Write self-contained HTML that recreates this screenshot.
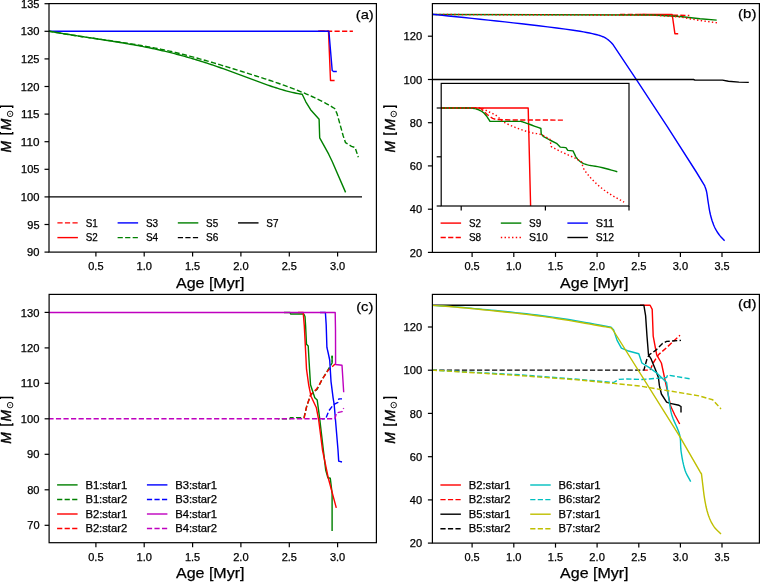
<!DOCTYPE html><html><head><meta charset="utf-8"><style>html,body{margin:0;padding:0;background:#fff;overflow:hidden}svg{display:block}text{font-family:"Liberation Sans",sans-serif;fill:#000;stroke:#000;stroke-width:0.25px}svg{will-change:transform}</style></head><body>
<svg width="760" height="582" viewBox="0 0 760 582">
<rect width="760" height="582" fill="#fff"/>
<rect x="49.0" y="3.6" width="327.4" height="248.5" fill="#fff" stroke="none"/>
<svg x="49.0" y="3.6" width="327.4" height="248.5" viewBox="49.0 3.6 327.4 248.5" overflow="hidden">
<polyline points="49.00,196.90 362.00,196.90" fill="none" stroke="#000000" stroke-width="1.41" stroke-linejoin="round" stroke-linecap="butt"/>
<polyline points="318.00,31.30 352.90,31.30" fill="none" stroke="#ff0000" stroke-width="1.41" stroke-linejoin="round" stroke-linecap="butt" stroke-dasharray="5.2 2.33" stroke-dashoffset="6.05"/>
<polyline points="318.00,31.30 328.50,31.30 330.50,80.50 334.60,80.50" fill="none" stroke="#ff0000" stroke-width="1.41" stroke-linejoin="round" stroke-linecap="butt"/>
<polyline points="49.00,31.30 328.90,31.30 332.20,70.50 333.50,71.50 336.80,71.50" fill="none" stroke="#0000ff" stroke-width="1.41" stroke-linejoin="round" stroke-linecap="butt"/>
<polyline points="48.40,31.11 50.42,31.48 52.43,31.85 54.45,32.21 56.46,32.57 58.48,32.91 60.50,33.26 62.51,33.59 64.53,33.93 66.55,34.25 68.56,34.58 70.58,34.90 72.59,35.21 74.61,35.52 76.63,35.83 78.64,36.13 80.66,36.44 82.68,36.73 84.69,37.03 86.71,37.33 88.72,37.62 90.74,37.91 92.76,38.20 94.77,38.49 96.79,38.78 98.80,39.07 100.82,39.35 102.84,39.64 104.85,39.93 106.87,40.22 108.89,40.51 110.90,40.80 112.92,41.10 114.93,41.39 116.95,41.69 118.97,41.99 120.98,42.29 123.00,42.60 125.02,42.91 127.03,43.22 129.05,43.54 131.06,43.86 133.08,44.18 135.10,44.51 137.11,44.85 139.13,45.19 141.15,45.53 143.16,45.88 145.18,46.24 147.19,46.60 149.21,46.97 151.23,47.35 153.24,47.73 155.26,48.13 157.27,48.52 159.29,48.93 161.31,49.35 163.32,49.77 165.34,50.21 167.36,50.65 169.37,51.10 171.39,51.56 173.40,52.03 175.42,52.51 177.44,52.99 179.45,53.49 181.47,53.99 183.49,54.50 185.50,55.01 187.52,55.54 189.53,56.07 191.55,56.60 193.57,57.15 195.58,57.70 197.60,58.25 199.61,58.82 201.63,59.38 203.65,59.95 205.66,60.53 207.68,61.11 209.70,61.70 211.71,62.29 213.73,62.89 215.74,63.49 217.76,64.09 219.78,64.70 221.79,65.31 223.81,65.92 225.83,66.54 227.84,67.16 229.86,67.78 231.87,68.40 233.89,69.03 235.91,69.65 237.92,70.28 239.94,70.91 241.95,71.54 243.97,72.17 245.99,72.80 248.00,73.44 250.02,74.07 252.04,74.70 254.05,75.34 256.07,75.97 258.08,76.61 260.10,77.25 262.12,77.90 264.13,78.55 266.15,79.20 268.17,79.86 270.18,80.53 272.20,81.20 274.21,81.88 276.23,82.56 278.25,83.26 280.26,83.96 282.28,84.67 284.30,85.39 286.31,86.12 288.33,86.86 290.34,87.61 292.36,88.37 294.38,89.15 296.39,89.94 298.41,90.74 300.42,91.55 302.44,92.38 304.46,93.22 306.47,94.08 308.49,94.95 310.51,95.85 312.52,96.76 314.54,97.69 316.55,98.64 318.57,99.62 320.59,100.62 322.60,101.65 324.62,102.71 326.64,103.80 328.65,104.92 330.67,106.07 332.68,107.27 334.70,108.50 337.10,113.90 340.10,124.70 343.10,135.50 345.50,142.70 351.50,146.30 355.10,147.50 358.30,157.20" fill="none" stroke="#008000" stroke-width="1.41" stroke-linejoin="round" stroke-linecap="butt" stroke-dasharray="5.2 2.33" stroke-dashoffset="0.00"/>
<polyline points="49.00,31.14 51.03,31.51 53.05,31.86 55.08,32.21 57.10,32.56 59.13,32.90 61.15,33.24 63.18,33.58 65.20,33.91 67.23,34.24 69.26,34.56 71.28,34.88 73.31,35.20 75.33,35.52 77.36,35.84 79.38,36.15 81.41,36.46 83.44,36.77 85.46,37.08 87.49,37.39 89.51,37.70 91.54,38.01 93.56,38.32 95.59,38.63 97.61,38.94 99.64,39.25 101.67,39.56 103.69,39.88 105.72,40.19 107.74,40.51 109.77,40.83 111.79,41.15 113.82,41.47 115.84,41.80 117.87,42.13 119.90,42.46 121.92,42.80 123.95,43.14 125.97,43.49 128.00,43.84 130.02,44.19 132.05,44.55 134.08,44.92 136.10,45.29 138.13,45.66 140.15,46.04 142.18,46.43 144.20,46.82 146.23,47.23 148.25,47.63 150.28,48.05 152.31,48.47 154.33,48.90 156.36,49.34 158.38,49.79 160.41,50.24 162.43,50.71 164.46,51.18 166.48,51.66 168.51,52.16 170.54,52.66 172.56,53.17 174.59,53.69 176.61,54.22 178.64,54.76 180.66,55.30 182.69,55.86 184.72,56.42 186.74,57.00 188.77,57.58 190.79,58.17 192.82,58.77 194.84,59.38 196.87,59.99 198.89,60.62 200.92,61.25 202.95,61.89 204.97,62.53 207.00,63.19 209.02,63.85 211.05,64.52 213.07,65.20 215.10,65.88 217.12,66.57 219.15,67.27 221.18,67.98 223.20,68.69 225.23,69.41 227.25,70.13 229.28,70.87 231.30,71.61 233.33,72.35 235.36,73.10 237.38,73.86 239.41,74.62 241.43,75.38 243.46,76.14 245.48,76.91 247.51,77.67 249.53,78.43 251.56,79.20 253.59,79.95 255.61,80.71 257.64,81.45 259.66,82.20 261.69,82.93 263.71,83.66 265.74,84.37 267.76,85.08 269.79,85.78 271.82,86.46 273.84,87.13 275.87,87.79 277.89,88.44 279.92,89.06 281.94,89.67 283.97,90.26 286.00,90.82 288.02,91.36 290.05,91.87 292.07,92.35 294.10,92.81 296.12,93.23 298.15,93.61 300.17,93.96 302.20,94.27 305.80,101.80 310.60,109.70 319.10,119.30 319.70,137.90 328.70,154.20 332.20,161.50 345.60,192.40" fill="none" stroke="#008000" stroke-width="1.41" stroke-linejoin="round" stroke-linecap="butt"/>
</svg>
<rect x="49.0" y="3.6" width="327.4" height="248.5" fill="none" stroke="#000" stroke-width="1.2"/>
<line x1="95.9" y1="252.1" x2="95.9" y2="256.6" stroke="#000" stroke-width="1.2"/>
<text x="95.9" y="270.0" font-size="10" text-anchor="middle" textLength="15.26" lengthAdjust="spacingAndGlyphs">0.5</text>
<line x1="144.2" y1="252.1" x2="144.2" y2="256.6" stroke="#000" stroke-width="1.2"/>
<text x="144.2" y="270.0" font-size="10" text-anchor="middle" textLength="15.42" lengthAdjust="spacingAndGlyphs">1.0</text>
<line x1="192.6" y1="252.1" x2="192.6" y2="256.6" stroke="#000" stroke-width="1.2"/>
<text x="192.6" y="270.0" font-size="10" text-anchor="middle" textLength="15.22" lengthAdjust="spacingAndGlyphs">1.5</text>
<line x1="240.9" y1="252.1" x2="240.9" y2="256.6" stroke="#000" stroke-width="1.2"/>
<text x="240.9" y="270.0" font-size="10" text-anchor="middle" textLength="15.5" lengthAdjust="spacingAndGlyphs">2.0</text>
<line x1="289.3" y1="252.1" x2="289.3" y2="256.6" stroke="#000" stroke-width="1.2"/>
<text x="289.3" y="270.0" font-size="10" text-anchor="middle" textLength="15.31" lengthAdjust="spacingAndGlyphs">2.5</text>
<line x1="337.6" y1="252.1" x2="337.6" y2="256.6" stroke="#000" stroke-width="1.2"/>
<text x="337.6" y="270.0" font-size="10" text-anchor="middle" textLength="15.33" lengthAdjust="spacingAndGlyphs">3.0</text>
<line x1="44.5" y1="252.1" x2="49.0" y2="252.1" stroke="#000" stroke-width="1.2"/>
<text x="39.5" y="256.2" font-size="10" text-anchor="end" textLength="12.39" lengthAdjust="spacingAndGlyphs">90</text>
<line x1="44.5" y1="224.5" x2="49.0" y2="224.5" stroke="#000" stroke-width="1.2"/>
<text x="39.5" y="228.6" font-size="10" text-anchor="end" textLength="12.2" lengthAdjust="spacingAndGlyphs">95</text>
<line x1="44.5" y1="196.9" x2="49.0" y2="196.9" stroke="#000" stroke-width="1.2"/>
<text x="39.5" y="201.0" font-size="10" text-anchor="end" textLength="18.61" lengthAdjust="spacingAndGlyphs">100</text>
<line x1="44.5" y1="169.3" x2="49.0" y2="169.3" stroke="#000" stroke-width="1.2"/>
<text x="39.5" y="173.4" font-size="10" text-anchor="end" textLength="18.42" lengthAdjust="spacingAndGlyphs">105</text>
<line x1="44.5" y1="141.7" x2="49.0" y2="141.7" stroke="#000" stroke-width="1.2"/>
<text x="39.5" y="145.8" font-size="10" text-anchor="end" textLength="18.61" lengthAdjust="spacingAndGlyphs">110</text>
<line x1="44.5" y1="114.1" x2="49.0" y2="114.1" stroke="#000" stroke-width="1.2"/>
<text x="39.5" y="118.2" font-size="10" text-anchor="end" textLength="18.42" lengthAdjust="spacingAndGlyphs">115</text>
<line x1="44.5" y1="86.5" x2="49.0" y2="86.5" stroke="#000" stroke-width="1.2"/>
<text x="39.5" y="90.6" font-size="10" text-anchor="end" textLength="18.61" lengthAdjust="spacingAndGlyphs">120</text>
<line x1="44.5" y1="58.9" x2="49.0" y2="58.9" stroke="#000" stroke-width="1.2"/>
<text x="39.5" y="63.0" font-size="10" text-anchor="end" textLength="18.42" lengthAdjust="spacingAndGlyphs">125</text>
<line x1="44.5" y1="31.3" x2="49.0" y2="31.3" stroke="#000" stroke-width="1.2"/>
<text x="39.5" y="35.4" font-size="10" text-anchor="end" textLength="18.61" lengthAdjust="spacingAndGlyphs">130</text>
<line x1="44.5" y1="3.7" x2="49.0" y2="3.7" stroke="#000" stroke-width="1.2"/>
<text x="39.5" y="7.8" font-size="10" text-anchor="end" textLength="18.42" lengthAdjust="spacingAndGlyphs">135</text>
<text x="210.2" y="287.8" font-size="14" text-anchor="middle" textLength="68.43" lengthAdjust="spacingAndGlyphs">Age [Myr]</text>
<g transform="translate(11.0,152.5) rotate(-90)"><text x="0.0" y="0" font-size="14" font-style="italic" style="stroke-width:0.4px" textLength="11.6" lengthAdjust="spacingAndGlyphs">M</text><path d="M20.4,-10.7 H18.7 V1.7 H20.4" fill="none" stroke="#000" stroke-width="1.45"/><text x="22.2" y="0" font-size="14" font-style="italic" style="stroke-width:0.4px" textLength="11.6" lengthAdjust="spacingAndGlyphs">M</text><circle cx="38.6" cy="-0.9" r="2.75" fill="none" stroke="#000" stroke-width="0.9"/><circle cx="38.6" cy="-0.9" r="0.6" fill="#000"/><path d="M44.6,-10.7 H46.3 V1.7 H44.6" fill="none" stroke="#000" stroke-width="1.45"/></g>
<text x="373.7" y="19.1" font-size="13.2" text-anchor="end" textLength="17.94" lengthAdjust="spacingAndGlyphs">(a)</text>
<polyline points="57.40,222.90 77.90,222.90" fill="none" stroke="#ff0000" stroke-width="1.41" stroke-linejoin="round" stroke-linecap="butt" stroke-dasharray="5.2 2.33"/>
<text x="85.7" y="226.5" font-size="10" text-anchor="start" textLength="12.06" lengthAdjust="spacingAndGlyphs">S1</text>
<polyline points="57.40,237.60 77.90,237.60" fill="none" stroke="#ff0000" stroke-width="1.41" stroke-linejoin="round" stroke-linecap="butt"/>
<text x="85.7" y="241.2" font-size="10" text-anchor="start" textLength="11.99" lengthAdjust="spacingAndGlyphs">S2</text>
<polyline points="117.61,222.90 138.11,222.90" fill="none" stroke="#0000ff" stroke-width="1.41" stroke-linejoin="round" stroke-linecap="butt"/>
<text x="145.9" y="226.5" font-size="10" text-anchor="start" textLength="12.14" lengthAdjust="spacingAndGlyphs">S3</text>
<polyline points="117.61,237.60 138.11,237.60" fill="none" stroke="#008000" stroke-width="1.41" stroke-linejoin="round" stroke-linecap="butt" stroke-dasharray="5.2 2.33"/>
<text x="145.9" y="241.2" font-size="10" text-anchor="start" textLength="12.24" lengthAdjust="spacingAndGlyphs">S4</text>
<polyline points="177.82,222.90 198.32,222.90" fill="none" stroke="#008000" stroke-width="1.41" stroke-linejoin="round" stroke-linecap="butt"/>
<text x="206.1" y="226.5" font-size="10" text-anchor="start" textLength="12.04" lengthAdjust="spacingAndGlyphs">S5</text>
<polyline points="177.82,237.60 198.32,237.60" fill="none" stroke="#000000" stroke-width="1.41" stroke-linejoin="round" stroke-linecap="butt" stroke-dasharray="5.2 2.33"/>
<text x="206.1" y="241.2" font-size="10" text-anchor="start" textLength="12.32" lengthAdjust="spacingAndGlyphs">S6</text>
<polyline points="238.03,222.90 258.53,222.90" fill="none" stroke="#000000" stroke-width="1.41" stroke-linejoin="round" stroke-linecap="butt"/>
<text x="266.3" y="226.5" font-size="10" text-anchor="start" textLength="12.15" lengthAdjust="spacingAndGlyphs">S7</text>
<rect x="432.4" y="3.6" width="327.0" height="248.8" fill="#fff" stroke="none"/>
<svg x="432.4" y="3.6" width="327.0" height="248.8" viewBox="432.4 3.6 327.0 248.8" overflow="hidden">
<polyline points="640.00,14.50 672.20,14.50 674.90,33.70 678.20,33.70" fill="none" stroke="#ff0000" stroke-width="1.41" stroke-linejoin="round" stroke-linecap="butt"/>
<polyline points="620.00,14.50 650.00,14.60 675.00,15.20 689.30,15.50" fill="none" stroke="#ff0000" stroke-width="1.41" stroke-linejoin="round" stroke-linecap="butt" stroke-dasharray="5.2 2.33" stroke-dashoffset="7.48"/>
<polyline points="432.40,14.50 653.00,15.00 680.00,16.50 700.00,18.80 716.70,20.10" fill="none" stroke="#008000" stroke-width="1.41" stroke-linejoin="round" stroke-linecap="butt"/>
<polyline points="431.80,14.50 653.00,15.10 680.00,17.00 700.00,20.50 717.80,22.90" fill="none" stroke="#ff0000" stroke-width="1.41" stroke-linejoin="round" stroke-linecap="butt" stroke-dasharray="1.41 2.33" stroke-dashoffset="0.00"/>
<polyline points="432.40,14.30 440.32,15.12 448.22,15.93 456.13,16.75 464.05,17.57 472.00,18.40 480.00,19.25 488.26,20.13 496.58,21.01 504.93,21.91 513.29,22.83 521.66,23.77 530.00,24.75 538.64,25.78 547.65,26.86 556.66,27.97 565.30,29.09 573.20,30.19 580.00,31.25 583.45,31.85 586.62,32.44 589.55,33.03 592.23,33.61 594.71,34.20 597.00,34.80 598.37,35.18 599.63,35.55 600.80,35.91 601.90,36.30 602.96,36.72 604.00,37.20 604.91,37.68 605.79,38.18 606.63,38.72 607.44,39.29 608.23,39.88 609.00,40.50 609.75,41.16 610.46,41.86 611.15,42.59 611.83,43.33 612.51,44.07 613.20,44.80 636.40,79.60 667.30,126.60 696.30,172.00 704.60,185.60 704.90,186.47 705.22,187.32 705.53,188.16 705.83,189.03 706.12,189.97 706.40,191.00 706.76,192.72 707.09,194.64 707.39,196.70 707.68,198.82 707.98,200.94 708.30,203.00 708.63,205.01 708.95,207.02 709.28,209.03 709.64,211.03 710.04,213.03 710.50,215.00 711.02,216.97 711.59,218.96 712.20,220.94 712.85,222.87 713.55,224.73 714.30,226.50 715.00,227.96 715.73,229.36 716.49,230.71 717.30,232.01 718.13,233.27 719.00,234.50 719.87,235.62 720.79,236.70 721.73,237.73 722.69,238.75 723.65,239.76 724.60,240.80" fill="none" stroke="#0000ff" stroke-width="1.41" stroke-linejoin="round" stroke-linecap="butt"/>
<polyline points="432.40,79.50 693.60,79.50 694.90,80.10 722.50,80.10 728.40,81.30 738.90,82.10 748.80,82.40" fill="none" stroke="#000000" stroke-width="1.41" stroke-linejoin="round" stroke-linecap="butt"/>
</svg>
<rect x="432.4" y="3.6" width="327.0" height="248.8" fill="none" stroke="#000" stroke-width="1.2"/>
<line x1="472.1" y1="252.4" x2="472.1" y2="256.9" stroke="#000" stroke-width="1.2"/>
<text x="472.1" y="270.0" font-size="10" text-anchor="middle" textLength="15.26" lengthAdjust="spacingAndGlyphs">0.5</text>
<line x1="513.8" y1="252.4" x2="513.8" y2="256.9" stroke="#000" stroke-width="1.2"/>
<text x="513.8" y="270.0" font-size="10" text-anchor="middle" textLength="15.42" lengthAdjust="spacingAndGlyphs">1.0</text>
<line x1="555.5" y1="252.4" x2="555.5" y2="256.9" stroke="#000" stroke-width="1.2"/>
<text x="555.5" y="270.0" font-size="10" text-anchor="middle" textLength="15.22" lengthAdjust="spacingAndGlyphs">1.5</text>
<line x1="597.1" y1="252.4" x2="597.1" y2="256.9" stroke="#000" stroke-width="1.2"/>
<text x="597.1" y="270.0" font-size="10" text-anchor="middle" textLength="15.5" lengthAdjust="spacingAndGlyphs">2.0</text>
<line x1="638.8" y1="252.4" x2="638.8" y2="256.9" stroke="#000" stroke-width="1.2"/>
<text x="638.8" y="270.0" font-size="10" text-anchor="middle" textLength="15.31" lengthAdjust="spacingAndGlyphs">2.5</text>
<line x1="680.4" y1="252.4" x2="680.4" y2="256.9" stroke="#000" stroke-width="1.2"/>
<text x="680.4" y="270.0" font-size="10" text-anchor="middle" textLength="15.33" lengthAdjust="spacingAndGlyphs">3.0</text>
<line x1="722.0" y1="252.4" x2="722.0" y2="256.9" stroke="#000" stroke-width="1.2"/>
<text x="722.0" y="270.0" font-size="10" text-anchor="middle" textLength="15.14" lengthAdjust="spacingAndGlyphs">3.5</text>
<line x1="427.9" y1="252.4" x2="432.4" y2="252.4" stroke="#000" stroke-width="1.2"/>
<text x="422.1" y="256.5" font-size="10" text-anchor="end" textLength="12.32" lengthAdjust="spacingAndGlyphs">20</text>
<line x1="427.9" y1="209.2" x2="432.4" y2="209.2" stroke="#000" stroke-width="1.2"/>
<text x="422.1" y="213.3" font-size="10" text-anchor="end" textLength="12.26" lengthAdjust="spacingAndGlyphs">40</text>
<line x1="427.9" y1="165.9" x2="432.4" y2="165.9" stroke="#000" stroke-width="1.2"/>
<text x="422.1" y="170.0" font-size="10" text-anchor="end" textLength="12.36" lengthAdjust="spacingAndGlyphs">60</text>
<line x1="427.9" y1="122.7" x2="432.4" y2="122.7" stroke="#000" stroke-width="1.2"/>
<text x="422.1" y="126.8" font-size="10" text-anchor="end" textLength="12.29" lengthAdjust="spacingAndGlyphs">80</text>
<line x1="427.9" y1="79.5" x2="432.4" y2="79.5" stroke="#000" stroke-width="1.2"/>
<text x="422.1" y="83.6" font-size="10" text-anchor="end" textLength="18.61" lengthAdjust="spacingAndGlyphs">100</text>
<line x1="427.9" y1="36.2" x2="432.4" y2="36.2" stroke="#000" stroke-width="1.2"/>
<text x="422.1" y="40.3" font-size="10" text-anchor="end" textLength="18.61" lengthAdjust="spacingAndGlyphs">120</text>
<text x="594.3" y="287.8" font-size="14" text-anchor="middle" textLength="68.43" lengthAdjust="spacingAndGlyphs">Age [Myr]</text>
<g transform="translate(394.6,152.6) rotate(-90)"><text x="0.0" y="0" font-size="14" font-style="italic" style="stroke-width:0.4px" textLength="11.6" lengthAdjust="spacingAndGlyphs">M</text><path d="M20.4,-10.7 H18.7 V1.7 H20.4" fill="none" stroke="#000" stroke-width="1.45"/><text x="22.2" y="0" font-size="14" font-style="italic" style="stroke-width:0.4px" textLength="11.6" lengthAdjust="spacingAndGlyphs">M</text><circle cx="38.6" cy="-0.9" r="2.75" fill="none" stroke="#000" stroke-width="0.9"/><circle cx="38.6" cy="-0.9" r="0.6" fill="#000"/><path d="M44.6,-10.7 H46.3 V1.7 H44.6" fill="none" stroke="#000" stroke-width="1.45"/></g>
<text x="756.4" y="17.5" font-size="13.2" text-anchor="end" textLength="18.26" lengthAdjust="spacingAndGlyphs">(b)</text>
<rect x="441.2" y="83.4" width="187.8" height="122.6" fill="#fff"/>
<svg x="441.2" y="83.4" width="187.8" height="122.6" viewBox="441.2 83.4 187.8 122.6" overflow="hidden">
<polyline points="441.20,108.00 528.20,108.00 530.70,210.00" fill="none" stroke="#ff0000" stroke-width="1.41" stroke-linejoin="round" stroke-linecap="butt"/>
<polyline points="441.20,108.00 478.00,108.00 481.00,108.60 487.40,114.70 492.60,118.40 495.80,119.40 510.00,120.00 562.90,120.10" fill="none" stroke="#ff0000" stroke-width="1.41" stroke-linejoin="round" stroke-linecap="butt" stroke-dasharray="5.2 2.33"/>
<polyline points="441.20,108.00 470.00,108.05 471.00,108.17 472.01,108.27 473.01,108.37 474.01,108.49 475.01,108.66 476.00,108.90 477.05,109.22 478.11,109.60 479.17,110.02 480.20,110.50 481.18,111.02 482.10,111.60 482.90,112.20 483.64,112.84 484.34,113.54 485.01,114.26 485.66,115.02 486.30,115.80 486.96,116.67 487.59,117.58 488.20,118.53 488.80,119.49 489.39,120.45 490.00,121.40 521.10,121.40 521.10,121.40 521.61,121.56 522.12,121.72 522.62,121.88 523.13,122.05 523.66,122.22 524.20,122.40 524.84,122.62 525.47,122.84 526.12,123.07 526.81,123.32 527.56,123.60 528.40,123.90 530.10,124.52 532.07,125.24 534.23,126.04 536.49,126.87 538.74,127.70 540.90,128.50 541.20,133.90 543.20,136.30 549.80,140.00 556.50,143.30 560.20,147.10 565.90,147.60 567.80,150.40 573.00,150.90 574.40,153.70 574.40,153.70 574.70,154.33 574.97,154.97 575.25,155.60 575.54,156.24 575.89,156.87 576.30,157.50 576.92,158.31 577.63,159.15 578.41,159.99 579.25,160.80 580.12,161.55 581.00,162.20 581.85,162.73 582.72,163.18 583.61,163.57 584.56,163.92 585.58,164.26 586.70,164.60 588.56,165.07 590.64,165.47 592.89,165.84 595.23,166.21 597.62,166.62 600.00,167.10 602.76,167.76 605.61,168.50 608.52,169.28 611.45,170.10 614.39,170.91 617.30,171.70" fill="none" stroke="#008000" stroke-width="1.41" stroke-linejoin="round" stroke-linecap="butt"/>
<polyline points="441.20,108.00 480.00,108.00 480.00,108.00 480.34,108.04 480.66,108.06 480.99,108.08 481.33,108.12 481.70,108.19 482.10,108.30 482.96,108.64 483.93,109.12 484.99,109.71 486.11,110.34 487.26,110.99 488.40,111.60 489.76,112.25 491.20,112.90 492.68,113.56 494.15,114.25 495.54,114.99 496.80,115.80 497.77,116.60 498.62,117.46 499.41,118.37 500.21,119.28 501.08,120.17 502.10,121.00 503.59,121.97 505.24,122.90 507.00,123.79 508.85,124.65 510.73,125.48 512.60,126.30 514.67,127.17 516.84,128.03 519.06,128.86 521.25,129.64 523.35,130.36 525.30,131.00 526.65,131.42 527.93,131.79 529.16,132.12 530.36,132.43 531.56,132.72 532.80,133.00 534.06,133.24 535.31,133.42 536.57,133.59 537.83,133.78 539.11,134.03 540.40,134.40 541.93,134.99 543.49,135.72 545.06,136.54 546.65,137.41 548.23,138.28 549.80,139.10 551.30,146.60 561.20,151.80 574.90,158.00 581.50,161.80 581.50,161.80 581.85,162.96 582.14,164.11 582.44,165.25 582.79,166.41 583.23,167.59 583.80,168.80 584.81,170.51 586.02,172.27 587.40,174.08 588.92,175.90 590.53,177.71 592.20,179.50 594.29,181.61 596.55,183.74 598.94,185.87 601.44,187.95 604.00,189.98 606.60,191.90 609.36,193.76 612.24,195.52 615.18,197.21 618.17,198.86 621.15,200.51 624.10,202.20" fill="none" stroke="#ff0000" stroke-width="1.41" stroke-linejoin="round" stroke-linecap="butt" stroke-dasharray="1.41 2.33"/>
</svg>
<rect x="441.2" y="83.4" width="187.8" height="122.6" fill="none" stroke="#000" stroke-width="1.2"/>
<line x1="461.2" y1="206.0" x2="461.2" y2="210.5" stroke="#000" stroke-width="1.2"/>
<line x1="545.4" y1="206.0" x2="545.4" y2="210.5" stroke="#000" stroke-width="1.2"/>
<line x1="629.0" y1="206.0" x2="629.0" y2="210.5" stroke="#000" stroke-width="1.2"/>
<line x1="436.7" y1="108.0" x2="441.2" y2="108.0" stroke="#000" stroke-width="1.2"/>
<line x1="436.7" y1="156.8" x2="441.2" y2="156.8" stroke="#000" stroke-width="1.2"/>
<line x1="436.7" y1="206.0" x2="441.2" y2="206.0" stroke="#000" stroke-width="1.2"/>
<rect x="436" y="212" width="200" height="34" fill="#fff"/>
<polyline points="440.60,223.10 461.10,223.10" fill="none" stroke="#ff0000" stroke-width="1.41" stroke-linejoin="round" stroke-linecap="butt"/>
<text x="468.9" y="226.7" font-size="10" text-anchor="start" textLength="11.99" lengthAdjust="spacingAndGlyphs">S2</text>
<polyline points="440.60,237.50 461.10,237.50" fill="none" stroke="#ff0000" stroke-width="1.41" stroke-linejoin="round" stroke-linecap="butt" stroke-dasharray="5.2 2.33"/>
<text x="468.9" y="241.1" font-size="10" text-anchor="start" textLength="12.26" lengthAdjust="spacingAndGlyphs">S8</text>
<polyline points="500.81,223.10 521.31,223.10" fill="none" stroke="#008000" stroke-width="1.41" stroke-linejoin="round" stroke-linecap="butt"/>
<text x="529.1" y="226.7" font-size="10" text-anchor="start" textLength="12.28" lengthAdjust="spacingAndGlyphs">S9</text>
<polyline points="500.81,237.50 521.31,237.50" fill="none" stroke="#ff0000" stroke-width="1.41" stroke-linejoin="round" stroke-linecap="butt" stroke-dasharray="1.41 2.33"/>
<text x="529.1" y="241.1" font-size="10" text-anchor="start" textLength="18.63" lengthAdjust="spacingAndGlyphs">S10</text>
<polyline points="567.38,223.10 587.88,223.10" fill="none" stroke="#0000ff" stroke-width="1.41" stroke-linejoin="round" stroke-linecap="butt"/>
<text x="595.7" y="226.7" font-size="10" text-anchor="start" textLength="18.47" lengthAdjust="spacingAndGlyphs">S11</text>
<polyline points="567.38,237.50 587.88,237.50" fill="none" stroke="#000000" stroke-width="1.41" stroke-linejoin="round" stroke-linecap="butt"/>
<text x="595.7" y="241.1" font-size="10" text-anchor="start" textLength="18.4" lengthAdjust="spacingAndGlyphs">S12</text>
<rect x="49.1" y="294.4" width="327.3" height="248.3" fill="#fff" stroke="none"/>
<svg x="49.1" y="294.4" width="327.3" height="248.3" viewBox="49.1 294.4 327.3 248.3" overflow="hidden">
<polyline points="284.00,312.50 290.10,312.50 290.60,314.00 303.80,314.00 305.00,316.50 305.60,325.80 306.50,344.20 308.20,346.00 309.00,360.00 310.50,384.70 314.80,397.80 317.20,400.10 319.50,417.10 325.70,470.00 327.90,477.70 330.30,478.30 332.10,493.30 332.10,531.10" fill="none" stroke="#008000" stroke-width="1.41" stroke-linejoin="round" stroke-linecap="butt"/>
<polyline points="278.00,418.70 290.10,418.70 290.30,417.60 304.00,417.60 307.10,404.70 311.00,394.70 317.20,389.30 321.80,380.00 332.10,363.00 332.10,355.80" fill="none" stroke="#008000" stroke-width="1.41" stroke-linejoin="round" stroke-linecap="butt" stroke-dasharray="5.2 2.33" stroke-dashoffset="3.70"/>
<polyline points="332.10,355.80 332.10,361.50" fill="none" stroke="#008000" stroke-width="1.41" stroke-linejoin="round" stroke-linecap="butt"/>
<polyline points="298.00,312.50 303.20,312.50 304.30,325.90 305.90,356.90 306.50,369.20 308.70,385.00 311.00,396.20 316.40,407.80 318.70,420.20 322.50,450.00 328.20,477.70 336.30,507.90" fill="none" stroke="#ff0000" stroke-width="1.41" stroke-linejoin="round" stroke-linecap="butt"/>
<polyline points="302.00,418.70 304.00,418.70 306.30,407.80 310.50,394.70 316.40,389.30 319.50,384.40 321.80,380.00 328.00,370.50 335.10,364.10" fill="none" stroke="#ff0000" stroke-width="1.41" stroke-linejoin="round" stroke-linecap="butt" stroke-dasharray="5.2 2.33" stroke-dashoffset="5.11"/>
<polyline points="320.00,312.50 325.40,312.50 326.20,325.00 326.90,347.40 328.20,353.00 329.70,360.00 331.00,381.30 333.10,397.80 334.20,404.70 338.00,450.00 338.70,461.10 342.00,462.00" fill="none" stroke="#0000ff" stroke-width="1.41" stroke-linejoin="round" stroke-linecap="butt"/>
<polyline points="322.00,418.70 325.70,418.70 328.80,410.90 333.40,404.70 338.00,402.40 338.80,398.90 342.00,398.90" fill="none" stroke="#0000ff" stroke-width="1.41" stroke-linejoin="round" stroke-linecap="butt" stroke-dasharray="5.2 2.33" stroke-dashoffset="2.52"/>
<polyline points="48.40,312.50 335.20,312.50 335.50,330.00 335.60,364.50 342.00,365.20 343.70,392.30" fill="none" stroke="#bf00bf" stroke-width="1.41" stroke-linejoin="round" stroke-linecap="butt"/>
<polyline points="48.40,418.70 334.90,418.70 336.50,412.90 342.00,411.60 343.70,408.10" fill="none" stroke="#bf00bf" stroke-width="1.41" stroke-linejoin="round" stroke-linecap="butt" stroke-dasharray="5.2 2.33" stroke-dashoffset="0.00"/>
</svg>
<rect x="49.1" y="294.4" width="327.3" height="248.3" fill="none" stroke="#000" stroke-width="1.2"/>
<line x1="95.9" y1="542.7" x2="95.9" y2="547.2" stroke="#000" stroke-width="1.2"/>
<text x="95.9" y="560.5" font-size="10" text-anchor="middle" textLength="15.26" lengthAdjust="spacingAndGlyphs">0.5</text>
<line x1="144.2" y1="542.7" x2="144.2" y2="547.2" stroke="#000" stroke-width="1.2"/>
<text x="144.2" y="560.5" font-size="10" text-anchor="middle" textLength="15.42" lengthAdjust="spacingAndGlyphs">1.0</text>
<line x1="192.6" y1="542.7" x2="192.6" y2="547.2" stroke="#000" stroke-width="1.2"/>
<text x="192.6" y="560.5" font-size="10" text-anchor="middle" textLength="15.22" lengthAdjust="spacingAndGlyphs">1.5</text>
<line x1="240.9" y1="542.7" x2="240.9" y2="547.2" stroke="#000" stroke-width="1.2"/>
<text x="240.9" y="560.5" font-size="10" text-anchor="middle" textLength="15.5" lengthAdjust="spacingAndGlyphs">2.0</text>
<line x1="289.3" y1="542.7" x2="289.3" y2="547.2" stroke="#000" stroke-width="1.2"/>
<text x="289.3" y="560.5" font-size="10" text-anchor="middle" textLength="15.31" lengthAdjust="spacingAndGlyphs">2.5</text>
<line x1="337.6" y1="542.7" x2="337.6" y2="547.2" stroke="#000" stroke-width="1.2"/>
<text x="337.6" y="560.5" font-size="10" text-anchor="middle" textLength="15.33" lengthAdjust="spacingAndGlyphs">3.0</text>
<line x1="44.6" y1="525.3" x2="49.1" y2="525.3" stroke="#000" stroke-width="1.2"/>
<text x="39.5" y="529.4" font-size="10" text-anchor="end" textLength="12.23" lengthAdjust="spacingAndGlyphs">70</text>
<line x1="44.6" y1="489.8" x2="49.1" y2="489.8" stroke="#000" stroke-width="1.2"/>
<text x="39.5" y="493.9" font-size="10" text-anchor="end" textLength="12.29" lengthAdjust="spacingAndGlyphs">80</text>
<line x1="44.6" y1="454.3" x2="49.1" y2="454.3" stroke="#000" stroke-width="1.2"/>
<text x="39.5" y="458.4" font-size="10" text-anchor="end" textLength="12.39" lengthAdjust="spacingAndGlyphs">90</text>
<line x1="44.6" y1="418.8" x2="49.1" y2="418.8" stroke="#000" stroke-width="1.2"/>
<text x="39.5" y="422.9" font-size="10" text-anchor="end" textLength="18.61" lengthAdjust="spacingAndGlyphs">100</text>
<line x1="44.6" y1="383.3" x2="49.1" y2="383.3" stroke="#000" stroke-width="1.2"/>
<text x="39.5" y="387.4" font-size="10" text-anchor="end" textLength="18.61" lengthAdjust="spacingAndGlyphs">110</text>
<line x1="44.6" y1="347.9" x2="49.1" y2="347.9" stroke="#000" stroke-width="1.2"/>
<text x="39.5" y="352.0" font-size="10" text-anchor="end" textLength="18.61" lengthAdjust="spacingAndGlyphs">120</text>
<line x1="44.6" y1="312.4" x2="49.1" y2="312.4" stroke="#000" stroke-width="1.2"/>
<text x="39.5" y="316.5" font-size="10" text-anchor="end" textLength="18.61" lengthAdjust="spacingAndGlyphs">130</text>
<text x="210.2" y="578.4" font-size="14" text-anchor="middle" textLength="68.43" lengthAdjust="spacingAndGlyphs">Age [Myr]</text>
<g transform="translate(11.0,443.7) rotate(-90)"><text x="0.0" y="0" font-size="14" font-style="italic" style="stroke-width:0.4px" textLength="11.6" lengthAdjust="spacingAndGlyphs">M</text><path d="M20.4,-10.7 H18.7 V1.7 H20.4" fill="none" stroke="#000" stroke-width="1.45"/><text x="22.2" y="0" font-size="14" font-style="italic" style="stroke-width:0.4px" textLength="11.6" lengthAdjust="spacingAndGlyphs">M</text><circle cx="38.6" cy="-0.9" r="2.75" fill="none" stroke="#000" stroke-width="0.9"/><circle cx="38.6" cy="-0.9" r="0.6" fill="#000"/><path d="M44.6,-10.7 H46.3 V1.7 H44.6" fill="none" stroke="#000" stroke-width="1.45"/></g>
<text x="373.3" y="310.9" font-size="13.2" text-anchor="end" textLength="17.11" lengthAdjust="spacingAndGlyphs">(c)</text>
<polyline points="57.10,484.90 77.60,484.90" fill="none" stroke="#008000" stroke-width="1.41" stroke-linejoin="round" stroke-linecap="butt"/>
<text x="85.4" y="488.5" font-size="10" text-anchor="start" textLength="41.89" lengthAdjust="spacingAndGlyphs">B1:star1</text>
<polyline points="57.10,499.45 77.60,499.45" fill="none" stroke="#008000" stroke-width="1.41" stroke-linejoin="round" stroke-linecap="butt" stroke-dasharray="5.2 2.33"/>
<text x="85.4" y="503.1" font-size="10" text-anchor="start" textLength="41.83" lengthAdjust="spacingAndGlyphs">B1:star2</text>
<polyline points="57.10,514.00 77.60,514.00" fill="none" stroke="#ff0000" stroke-width="1.41" stroke-linejoin="round" stroke-linecap="butt"/>
<text x="85.4" y="517.6" font-size="10" text-anchor="start" textLength="41.89" lengthAdjust="spacingAndGlyphs">B2:star1</text>
<polyline points="57.10,528.55 77.60,528.55" fill="none" stroke="#ff0000" stroke-width="1.41" stroke-linejoin="round" stroke-linecap="butt" stroke-dasharray="5.2 2.33"/>
<text x="85.4" y="532.1" font-size="10" text-anchor="start" textLength="41.83" lengthAdjust="spacingAndGlyphs">B2:star2</text>
<polyline points="146.92,484.90 167.42,484.90" fill="none" stroke="#0000ff" stroke-width="1.41" stroke-linejoin="round" stroke-linecap="butt"/>
<text x="175.2" y="488.5" font-size="10" text-anchor="start" textLength="41.89" lengthAdjust="spacingAndGlyphs">B3:star1</text>
<polyline points="146.92,499.45 167.42,499.45" fill="none" stroke="#0000ff" stroke-width="1.41" stroke-linejoin="round" stroke-linecap="butt" stroke-dasharray="5.2 2.33"/>
<text x="175.2" y="503.1" font-size="10" text-anchor="start" textLength="41.83" lengthAdjust="spacingAndGlyphs">B3:star2</text>
<polyline points="146.92,514.00 167.42,514.00" fill="none" stroke="#bf00bf" stroke-width="1.41" stroke-linejoin="round" stroke-linecap="butt"/>
<text x="175.2" y="517.6" font-size="10" text-anchor="start" textLength="41.89" lengthAdjust="spacingAndGlyphs">B4:star1</text>
<polyline points="146.92,528.55 167.42,528.55" fill="none" stroke="#bf00bf" stroke-width="1.41" stroke-linejoin="round" stroke-linecap="butt" stroke-dasharray="5.2 2.33"/>
<text x="175.2" y="532.1" font-size="10" text-anchor="start" textLength="41.83" lengthAdjust="spacingAndGlyphs">B4:star2</text>
<rect x="432.4" y="294.4" width="327.0" height="248.7" fill="#fff" stroke="none"/>
<svg x="432.4" y="294.4" width="327.0" height="248.7" viewBox="432.4 294.4 327.0 248.7" overflow="hidden">
<polyline points="640.00,305.30 650.10,305.30 652.20,309.40 653.20,336.20 656.70,354.80 661.40,363.00 664.50,377.50 667.60,391.90 670.70,406.30 674.80,415.00 679.70,424.00" fill="none" stroke="#ff0000" stroke-width="1.41" stroke-linejoin="round" stroke-linecap="butt"/>
<polyline points="643.90,370.10 650.10,370.10 653.20,363.00 658.40,354.80 666.60,347.60 680.00,335.20" fill="none" stroke="#ff0000" stroke-width="1.41" stroke-linejoin="round" stroke-linecap="butt" stroke-dasharray="5.2 2.33" stroke-dashoffset="1.26"/>
<polyline points="432.40,305.30 643.90,305.30 645.60,315.60 647.00,336.20 648.50,354.80 651.10,358.90 655.30,369.20 658.40,377.50 659.40,385.70 661.40,394.00 666.60,402.20 670.10,403.40 679.00,405.30 681.00,406.50 681.00,412.50" fill="none" stroke="#000000" stroke-width="1.41" stroke-linejoin="round" stroke-linecap="butt"/>
<polyline points="431.80,370.10 643.90,370.10 647.00,358.90 649.10,354.80 655.30,350.70 662.50,343.50 666.60,341.40 681.00,340.40" fill="none" stroke="#000000" stroke-width="1.41" stroke-linejoin="round" stroke-linecap="butt" stroke-dasharray="5.2 2.33" stroke-dashoffset="0.00"/>
<polyline points="432.40,305.40 435.72,305.59 439.03,305.78 442.33,305.96 445.65,306.15 449.01,306.36 452.40,306.60 456.03,306.89 459.69,307.20 463.39,307.54 467.12,307.89 470.89,308.24 474.70,308.60 478.79,308.98 482.91,309.36 487.08,309.74 491.30,310.14 495.60,310.56 500.00,311.00 505.07,311.51 510.28,312.04 515.59,312.60 520.94,313.17 526.30,313.77 531.60,314.40 536.87,315.05 542.14,315.73 547.41,316.43 552.68,317.15 557.94,317.91 563.20,318.70 568.58,319.55 574.09,320.46 579.60,321.40 584.96,322.34 590.04,323.25 594.70,324.10 597.74,324.67 600.56,325.21 603.23,325.74 605.83,326.26 608.43,326.77 611.10,327.30 613.70,330.10 617.10,340.40 621.40,348.10 627.50,350.70 638.80,353.80 641.90,363.00 650.10,368.20 657.30,373.40 662.50,378.50 666.60,382.60 668.70,398.10 669.17,400.91 669.59,403.70 670.02,406.49 670.49,409.30 671.07,412.13 671.80,415.00 672.92,418.28 674.34,421.63 675.88,425.01 677.39,428.39 678.72,431.73 679.70,435.00 680.21,437.79 680.47,440.53 680.58,443.24 680.66,445.96 680.80,448.70 681.10,451.50 681.59,454.69 682.15,458.02 682.78,461.39 683.50,464.69 684.30,467.83 685.20,470.70 686.00,472.75 686.89,474.64 687.83,476.43 688.79,478.17 689.76,479.91 690.70,481.70" fill="none" stroke="#00bfbf" stroke-width="1.41" stroke-linejoin="round" stroke-linecap="butt"/>
<polyline points="431.80,370.10 520.00,374.80 580.00,379.50 613.70,382.50 618.90,379.40 626.60,379.00 641.90,379.50 666.60,377.50 667.60,375.00 691.30,379.10" fill="none" stroke="#00bfbf" stroke-width="1.41" stroke-linejoin="round" stroke-linecap="butt" stroke-dasharray="5.2 2.33" stroke-dashoffset="0.00"/>
<polyline points="432.40,305.40 435.72,305.63 439.03,305.85 442.33,306.06 445.65,306.29 449.00,306.53 452.40,306.80 456.03,307.11 459.69,307.44 463.39,307.79 467.12,308.15 470.89,308.52 474.70,308.90 478.79,309.31 482.91,309.72 487.08,310.15 491.30,310.58 495.60,311.03 500.00,311.50 505.06,312.04 510.28,312.58 515.59,313.15 520.94,313.74 526.30,314.35 531.60,315.00 536.87,315.68 542.14,316.39 547.41,317.13 552.68,317.89 557.94,318.68 563.20,319.50 568.58,320.38 574.09,321.33 579.59,322.31 584.96,323.27 590.04,324.18 594.70,325.00 597.74,325.52 600.56,326.01 603.23,326.46 605.83,326.90 608.43,327.34 611.10,327.80 613.00,330.00 679.70,436.40 700.30,472.10 701.50,474.00 701.50,474.00 701.71,475.82 701.92,477.63 702.14,479.44 702.35,481.26 702.57,483.11 702.80,485.00 703.06,487.14 703.31,489.33 703.58,491.56 703.86,493.80 704.16,496.02 704.50,498.20 704.85,500.30 705.22,502.39 705.61,504.47 706.03,506.53 706.49,508.54 707.00,510.50 707.50,512.26 708.02,513.99 708.58,515.69 709.18,517.35 709.82,518.95 710.50,520.50 711.16,521.85 711.85,523.16 712.57,524.43 713.33,525.66 714.14,526.85 715.00,528.00 715.91,529.08 716.88,530.10 717.90,531.09 718.94,532.05 719.98,533.02 721.00,534.00" fill="none" stroke="#bfbf00" stroke-width="1.41" stroke-linejoin="round" stroke-linecap="butt"/>
<polyline points="431.80,370.10 520.00,375.60 580.00,380.00 613.70,383.40 640.00,386.00 699.60,396.00 712.70,399.80 721.00,408.90" fill="none" stroke="#bfbf00" stroke-width="1.41" stroke-linejoin="round" stroke-linecap="butt" stroke-dasharray="5.2 2.33" stroke-dashoffset="0.00"/>
</svg>
<rect x="432.4" y="294.4" width="327.0" height="248.7" fill="none" stroke="#000" stroke-width="1.2"/>
<line x1="472.1" y1="543.1" x2="472.1" y2="547.6" stroke="#000" stroke-width="1.2"/>
<text x="472.1" y="560.5" font-size="10" text-anchor="middle" textLength="15.26" lengthAdjust="spacingAndGlyphs">0.5</text>
<line x1="513.8" y1="543.1" x2="513.8" y2="547.6" stroke="#000" stroke-width="1.2"/>
<text x="513.8" y="560.5" font-size="10" text-anchor="middle" textLength="15.42" lengthAdjust="spacingAndGlyphs">1.0</text>
<line x1="555.5" y1="543.1" x2="555.5" y2="547.6" stroke="#000" stroke-width="1.2"/>
<text x="555.5" y="560.5" font-size="10" text-anchor="middle" textLength="15.22" lengthAdjust="spacingAndGlyphs">1.5</text>
<line x1="597.1" y1="543.1" x2="597.1" y2="547.6" stroke="#000" stroke-width="1.2"/>
<text x="597.1" y="560.5" font-size="10" text-anchor="middle" textLength="15.5" lengthAdjust="spacingAndGlyphs">2.0</text>
<line x1="638.8" y1="543.1" x2="638.8" y2="547.6" stroke="#000" stroke-width="1.2"/>
<text x="638.8" y="560.5" font-size="10" text-anchor="middle" textLength="15.31" lengthAdjust="spacingAndGlyphs">2.5</text>
<line x1="680.4" y1="543.1" x2="680.4" y2="547.6" stroke="#000" stroke-width="1.2"/>
<text x="680.4" y="560.5" font-size="10" text-anchor="middle" textLength="15.33" lengthAdjust="spacingAndGlyphs">3.0</text>
<line x1="722.0" y1="543.1" x2="722.0" y2="547.6" stroke="#000" stroke-width="1.2"/>
<text x="722.0" y="560.5" font-size="10" text-anchor="middle" textLength="15.14" lengthAdjust="spacingAndGlyphs">3.5</text>
<line x1="427.9" y1="543.1" x2="432.4" y2="543.1" stroke="#000" stroke-width="1.2"/>
<text x="422.1" y="547.2" font-size="10" text-anchor="end" textLength="12.32" lengthAdjust="spacingAndGlyphs">20</text>
<line x1="427.9" y1="499.9" x2="432.4" y2="499.9" stroke="#000" stroke-width="1.2"/>
<text x="422.1" y="504.0" font-size="10" text-anchor="end" textLength="12.26" lengthAdjust="spacingAndGlyphs">40</text>
<line x1="427.9" y1="456.7" x2="432.4" y2="456.7" stroke="#000" stroke-width="1.2"/>
<text x="422.1" y="460.8" font-size="10" text-anchor="end" textLength="12.36" lengthAdjust="spacingAndGlyphs">60</text>
<line x1="427.9" y1="413.4" x2="432.4" y2="413.4" stroke="#000" stroke-width="1.2"/>
<text x="422.1" y="417.5" font-size="10" text-anchor="end" textLength="12.29" lengthAdjust="spacingAndGlyphs">80</text>
<line x1="427.9" y1="370.2" x2="432.4" y2="370.2" stroke="#000" stroke-width="1.2"/>
<text x="422.1" y="374.3" font-size="10" text-anchor="end" textLength="18.61" lengthAdjust="spacingAndGlyphs">100</text>
<line x1="427.9" y1="327.0" x2="432.4" y2="327.0" stroke="#000" stroke-width="1.2"/>
<text x="422.1" y="331.1" font-size="10" text-anchor="end" textLength="18.61" lengthAdjust="spacingAndGlyphs">120</text>
<text x="594.3" y="578.4" font-size="14" text-anchor="middle" textLength="68.43" lengthAdjust="spacingAndGlyphs">Age [Myr]</text>
<g transform="translate(394.6,443.7) rotate(-90)"><text x="0.0" y="0" font-size="14" font-style="italic" style="stroke-width:0.4px" textLength="11.6" lengthAdjust="spacingAndGlyphs">M</text><path d="M20.4,-10.7 H18.7 V1.7 H20.4" fill="none" stroke="#000" stroke-width="1.45"/><text x="22.2" y="0" font-size="14" font-style="italic" style="stroke-width:0.4px" textLength="11.6" lengthAdjust="spacingAndGlyphs">M</text><circle cx="38.6" cy="-0.9" r="2.75" fill="none" stroke="#000" stroke-width="0.9"/><circle cx="38.6" cy="-0.9" r="0.6" fill="#000"/><path d="M44.6,-10.7 H46.3 V1.7 H44.6" fill="none" stroke="#000" stroke-width="1.45"/></g>
<text x="756.4" y="308.1" font-size="13.2" text-anchor="end" textLength="18.26" lengthAdjust="spacingAndGlyphs">(d)</text>
<polyline points="440.40,485.00 460.90,485.00" fill="none" stroke="#ff0000" stroke-width="1.41" stroke-linejoin="round" stroke-linecap="butt"/>
<text x="468.7" y="488.6" font-size="10" text-anchor="start" textLength="41.89" lengthAdjust="spacingAndGlyphs">B2:star1</text>
<polyline points="440.40,499.60 460.90,499.60" fill="none" stroke="#ff0000" stroke-width="1.41" stroke-linejoin="round" stroke-linecap="butt" stroke-dasharray="5.2 2.33"/>
<text x="468.7" y="503.2" font-size="10" text-anchor="start" textLength="41.83" lengthAdjust="spacingAndGlyphs">B2:star2</text>
<polyline points="440.40,514.20 460.90,514.20" fill="none" stroke="#000000" stroke-width="1.41" stroke-linejoin="round" stroke-linecap="butt"/>
<text x="468.7" y="517.8" font-size="10" text-anchor="start" textLength="41.89" lengthAdjust="spacingAndGlyphs">B5:star1</text>
<polyline points="440.40,528.80 460.90,528.80" fill="none" stroke="#000000" stroke-width="1.41" stroke-linejoin="round" stroke-linecap="butt" stroke-dasharray="5.2 2.33"/>
<text x="468.7" y="532.4" font-size="10" text-anchor="start" textLength="41.83" lengthAdjust="spacingAndGlyphs">B5:star2</text>
<polyline points="530.22,485.00 550.72,485.00" fill="none" stroke="#00bfbf" stroke-width="1.41" stroke-linejoin="round" stroke-linecap="butt"/>
<text x="558.5" y="488.6" font-size="10" text-anchor="start" textLength="41.89" lengthAdjust="spacingAndGlyphs">B6:star1</text>
<polyline points="530.22,499.60 550.72,499.60" fill="none" stroke="#00bfbf" stroke-width="1.41" stroke-linejoin="round" stroke-linecap="butt" stroke-dasharray="5.2 2.33"/>
<text x="558.5" y="503.2" font-size="10" text-anchor="start" textLength="41.83" lengthAdjust="spacingAndGlyphs">B6:star2</text>
<polyline points="530.22,514.20 550.72,514.20" fill="none" stroke="#bfbf00" stroke-width="1.41" stroke-linejoin="round" stroke-linecap="butt"/>
<text x="558.5" y="517.8" font-size="10" text-anchor="start" textLength="41.89" lengthAdjust="spacingAndGlyphs">B7:star1</text>
<polyline points="530.22,528.80 550.72,528.80" fill="none" stroke="#bfbf00" stroke-width="1.41" stroke-linejoin="round" stroke-linecap="butt" stroke-dasharray="5.2 2.33"/>
<text x="558.5" y="532.4" font-size="10" text-anchor="start" textLength="41.83" lengthAdjust="spacingAndGlyphs">B7:star2</text>
</svg></body></html>
